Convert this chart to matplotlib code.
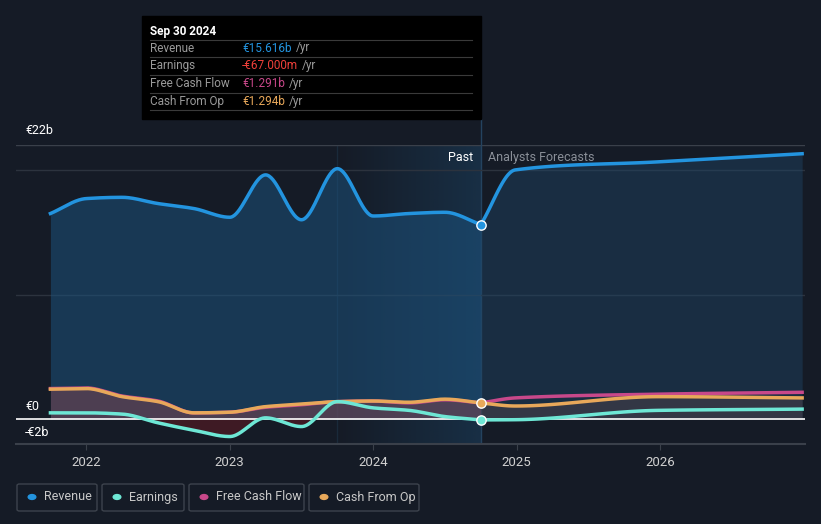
import matplotlib.pyplot as plt
from matplotlib.patches import Rectangle, FancyBboxPatch
from matplotlib.colors import to_rgb
import numpy as np

plt.rcParams['font.family'] = ['Roboto', 'DejaVu Sans']

# quarterly history (year fraction) and forecasts
past_t = [2021.75, 2022.0, 2022.25, 2022.5, 2022.75, 2023.0, 2023.25,
          2023.5, 2023.75, 2024.0, 2024.25, 2024.5, 2024.75]
revenue = [16.5, 17.7, 17.8, 17.3, 16.9, 16.2, 19.6, 16.0, 20.1, 16.3, 16.5, 16.6, 15.616]
earnings = [0.5, 0.5, 0.4, -0.3, -0.9, -1.4, 0.1, -0.6, 1.4, 0.9, 0.7, 0.2, -0.067]
fcf = [2.45, 2.5, 1.85, 1.45, 0.5, 0.55, 0.95, 1.15, 1.4, 1.45, 1.3, 1.55, 1.291]
cfo = [2.4, 2.45, 1.8, 1.4, 0.5, 0.55, 1.0, 1.2, 1.4, 1.45, 1.35, 1.6, 1.294]

fc_t = [2024.75, 2024.99, 2025.99, 2026.99]
revenue_fc = [15.616, 20.0, 20.65, 21.3]
earnings_fc = [-0.067, -0.05, 0.7, 0.8]
fcf_fc = [1.291, 1.7, 2.0, 2.15]
cfo_fc = [1.294, 1.05, 1.8, 1.7]

years = [2022, 2023, 2024, 2025, 2026]

BG = '#151b26'
C_REV = '#2394df'
C_EARN = '#6ee7d5'
C_FCF = '#c8488a'
C_CFO = '#e8a85a'


def smooth(x, y, n=40):
    # monotone cubic (like d3 curveMonotoneX) just for drawing
    x = np.asarray(x, float); y = np.asarray(y, float)
    h = np.diff(x); d = np.diff(y) / h
    m = np.zeros_like(y)
    m[0], m[-1] = d[0], d[-1]
    for i in range(1, len(y) - 1):
        if d[i - 1] * d[i] <= 0:
            m[i] = 0
        else:
            w1 = 2 * h[i] + h[i - 1]; w2 = h[i] + 2 * h[i - 1]
            m[i] = (w1 + w2) / (w1 / d[i - 1] + w2 / d[i])
    xs, ys = [], []
    for i in range(len(h)):
        t = np.linspace(0, 1, n, endpoint=(i == len(h) - 1))
        h00 = 2*t**3 - 3*t**2 + 1; h10 = t**3 - 2*t**2 + t
        h01 = -2*t**3 + 3*t**2; h11 = t**3 - t**2
        xs.append(x[i] + t * h[i])
        ys.append(h00*y[i] + h10*h[i]*m[i] + h01*y[i+1] + h11*h[i]*m[i+1])
    return np.concatenate(xs), np.concatenate(ys)


W, H = 821, 524
fig = plt.figure(figsize=(W / 100, H / 100), dpi=100, facecolor=BG)


def fx(x):
    return x / W


def fy(y):
    return 1 - y / H


ax = fig.add_axes([fx(16), fy(444), fx(805) - fx(16), fy(145) - fy(444)])
ax.set_facecolor(BG)
ax.set_xlim(2021.51, 2027.01)
ax.set_ylim(-2, 22)
for s in ax.spines.values():
    s.set_visible(False)
ax.set_yticks([])
ax.set_xticks(years)
ax.set_xticklabels([str(y) for y in years], color='#d0d0d0', fontsize=9.5)
ax.tick_params(axis='x', length=4, color='#3a404a', pad=5)

# past highlight band: gradient from transparent to light blue
grad = np.zeros((2, 256, 4))
grad[..., :3] = to_rgb('#1f5a88')
grad[..., 3] = np.linspace(0.0, 0.32, 256)[None, :]
ax.imshow(grad, extent=[2023.75, 2024.75, -2, 22], aspect='auto', zorder=1,
          interpolation='bilinear')
ax.axvline(2023.75, color='#1a2a3a', lw=1, zorder=1)
ax.axvline(2024.75, color='#24435f', lw=1, zorder=1)

for g in [10, 20]:
    ax.axhline(g, color='#2c333e', lw=1, zorder=1)
ax.axhline(22, color='#3a404a', lw=1, zorder=1)
ax.axhline(-2, color='#3a404a', lw=1.5, zorder=1, clip_on=False)

# revenue
rx, ry = smooth(past_t, revenue)
fx_, fy_ = smooth(fc_t, revenue_fc)
ax.fill_between(rx, 0, ry, color='#1c5582', alpha=0.5, lw=0, zorder=2)
ax.fill_between(fx_, 0, fy_, color='#1f4566', alpha=0.45, lw=0, zorder=2)
ax.plot(rx, ry, color=C_REV, lw=2.5, zorder=5)
ax.plot(fx_, fy_, color=C_REV, lw=2.5, zorder=5)

# earnings / cash flows
ex, ey = smooth(past_t, earnings)
cx, cy = smooth(past_t, cfo)
px_, py_ = smooth(past_t, fcf)
ax.fill_between(cx, 0, cy, color='#7a4450', alpha=0.55, lw=0, zorder=3)
ax.fill_between(ex, 0, ey, where=ey < 0, color='#5a1a24', alpha=0.6, lw=0, zorder=3)
efx, efy = smooth(fc_t, earnings_fc)
cfx, cfy = smooth(fc_t, cfo_fc)
pfx, pfy = smooth(fc_t, fcf_fc)
ax.fill_between(cfx, 0, cfy, color='#4a4048', alpha=0.55, lw=0, zorder=3)

ax.axhline(0, color='white', lw=1.2, zorder=4)

ax.plot(px_, py_, color=C_FCF, lw=2.5, zorder=6)
ax.plot(cx, cy, color=C_CFO, lw=2.5, zorder=7)
ax.plot(ex, ey, color=C_EARN, lw=2.5, zorder=8)
ax.plot(pfx, pfy, color=C_FCF, lw=2.5, zorder=6)
ax.plot(cfx, cfy, color=C_CFO, lw=2.5, zorder=7)
ax.plot(efx, efy, color=C_EARN, lw=2.5, zorder=8)

ax.scatter([past_t[-1]], [revenue[-1]], s=45, color=C_REV, edgecolor='white', lw=1, zorder=10)
ax.scatter([past_t[-1]], [cfo[-1]], s=45, color=C_CFO, edgecolor='white', lw=1, zorder=10)
ax.scatter([past_t[-1]], [earnings[-1]], s=45, color=C_EARN, edgecolor='white', lw=1, zorder=10)

ax.text(2024.75 - 0.05, 21.0, 'Past', color='white', fontsize=9, ha='right', va='center', zorder=11)
ax.text(2024.75 + 0.05, 21.0, 'Analysts Forecasts', color='#8a8f98', fontsize=9, ha='left', va='center', zorder=11)

# y labels
fig.text(fx(25), fy(131), '€22b', color='white', fontsize=9, va='center')
fig.text(fx(25), fy(407), '€0', color='white', fontsize=9, va='center')
fig.text(fx(25), fy(432), '-€2b', color='white', fontsize=9, va='center')

# tooltip
fig.patches.append(Rectangle((fx(142), fy(119)), fx(481) - fx(142), fy(16) - fy(119),
                             transform=fig.transFigure, color='black', zorder=20))
fig.lines.append(plt.Line2D([fx(481), fx(481)], [fy(119), fy(145)], transform=fig.transFigure,
                            color='#24435f', lw=1))
fig.text(fx(150), fy(31), 'Sep 30 2024', color='white', fontsize=8.5, fontweight='bold',
         va='center', zorder=21)
rows = [('Revenue', '€15.616b', C_REV), ('Earnings', '-€67.000m', '#f0403a'),
        ('Free Cash Flow', '€1.291b', C_FCF), ('Cash From Op', '€1.294b', C_CFO)]
renderer = fig.canvas.get_renderer()
for i, (lab, val, col) in enumerate(rows):
    y = 48 + i * 17.7
    fig.lines.append(plt.Line2D([fx(150), fx(472)], [fy(y - 8.5), fy(y - 8.5)],
                                transform=fig.transFigure, color='#3a3a3a', lw=0.8, zorder=21))
    fig.text(fx(150), fy(y), lab, color='#9a9a9a', fontsize=8.5, va='center', zorder=21)
    t = fig.text(fx(242), fy(y), val, color=col, fontsize=8.5, va='center', zorder=21)
    x_end = t.get_window_extent(renderer).x1
    fig.text(fx(x_end + 4), fy(y), '/yr', color='#9a9a9a', fontsize=8.5, va='center', zorder=21)
fig.lines.append(plt.Line2D([fx(150), fx(472)], [fy(110), fy(110)],
                            transform=fig.transFigure, color='#3a3a3a', lw=0.8, zorder=21))

# legend
legend = [('Revenue', C_REV, 17, 97), ('Earnings', C_EARN, 102, 184),
          ('Free Cash Flow', C_FCF, 189, 304), ('Cash From Op', C_CFO, 309, 419)]
for lab, col, x0, x1 in legend:
    fig.patches.append(FancyBboxPatch((fx(x0), fy(511)), fx(x1) - fx(x0), fy(484) - fy(511),
                                      boxstyle='round,pad=0,rounding_size=0.003',
                                      transform=fig.transFigure, facecolor='none',
                                      edgecolor='#3d434d', lw=1))
    fig.patches.append(plt.Circle((fx(x0 + 15), fy(497)), 3.8 / W, transform=fig.transFigure,
                                  color=col))
    fig.text(fx(x0 + 27), fy(497), lab, color='#c8c8c8', fontsize=9, va='center')

fig.savefig('out.png', dpi=100, facecolor=BG)
